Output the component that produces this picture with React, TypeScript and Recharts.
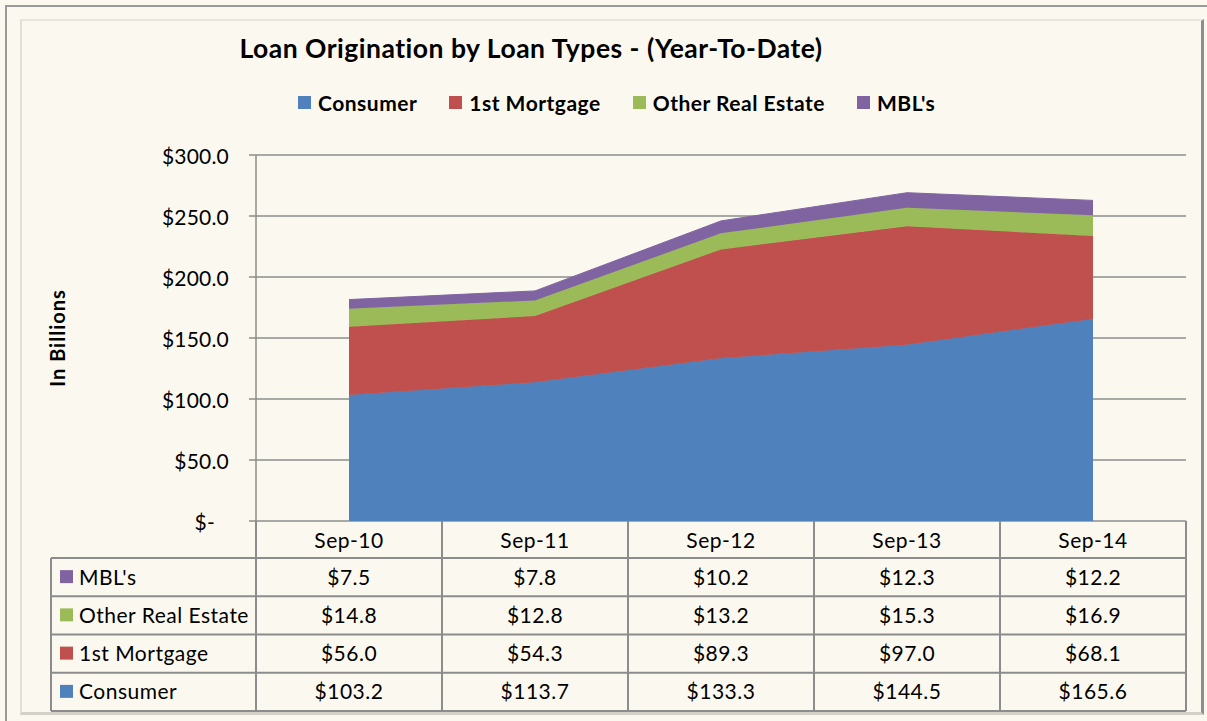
import React from 'react';
import { AreaChart, Area, XAxis, YAxis, CartesianGrid } from 'recharts';

const categories = ['Sep-10', 'Sep-11', 'Sep-12', 'Sep-13', 'Sep-14'];
const consumer = [103.2, 113.7, 133.3, 144.5, 165.6];
const firstMortgage = [56.0, 54.3, 89.3, 97.0, 68.1];
const otherRealEstate = [14.8, 12.8, 13.2, 15.3, 16.9];
const mbls = [7.5, 7.8, 10.2, 12.3, 12.2];
const yTicks = [0, 50, 100, 150, 200, 250, 300];

const seriesDefs = [
  { key: 'consumer', name: 'Consumer', color: '#4F81BD', values: consumer },
  { key: 'firstMortgage', name: '1st Mortgage', color: '#C0504D', values: firstMortgage },
  { key: 'otherRealEstate', name: 'Other Real Estate', color: '#9BBB59', values: otherRealEstate },
  { key: 'mbls', name: "MBL's", color: '#8064A2', values: mbls },
];

const data = categories.map((c, i) => {
  const row: Record<string, any> = { category: c };
  seriesDefs.forEach((s) => (row[s.key] = s.values[i]));
  return row;
});

const W = 1207;
const H = 721;
const BG = '#FBF9EF';
const FONT = 'Lato, "Open Sans", sans-serif';
const LINE = '#8C8C8C';

const PLOT_LEFT = 256;
const PLOT_RIGHT = 1186;
const PLOT_TOP = 155;
const PLOT_BOTTOM = 521;
const COL_W = (PLOT_RIGHT - PLOT_LEFT) / categories.length;
const HEADER_H = 37;
const ROW_H = 38.25;
const LABEL_LEFT = 51;
const TABLE_FS = 21;
const TABLE_LS = 0.5;

const tableRows = [...seriesDefs].reverse();

const fmt = (v: number) => `$${v.toFixed(1)}`;

const YTick = (props: any) => {
  const { x, y, payload } = props;
  const v = payload.value as number;
  return (
    <text
      x={v === 0 ? x - 14 : x}
      y={y}
      textAnchor="end"
      dominantBaseline="central"
      fontFamily={FONT}
      fontSize={21}
      letterSpacing={0.2}
      fill="#000"
    >
      {v === 0 ? '$-' : fmt(v)}
    </text>
  );
};

const cellText = (key: string, x: number, y: number, anchor: string, content: string) => (
  <text
    key={key}
    x={x}
    y={y}
    textAnchor={anchor}
    dominantBaseline="central"
    fontFamily={FONT}
    fontSize={TABLE_FS}
    letterSpacing={TABLE_LS}
    fill="#000"
  >
    {content}
  </text>
);

const TableTick = (props: any) => {
  const { x, payload, index } = props;
  const left = x - COL_W / 2;
  const right = x + COL_W / 2;
  const top = PLOT_BOTTOM;
  const bottom = top + HEADER_H + ROW_H * tableRows.length;
  const els: any[] = [];
  els.push(<line key="vl" x1={left} y1={top} x2={left} y2={bottom} stroke={LINE} strokeWidth={2} />);
  if (index === categories.length - 1) {
    els.push(<line key="vr" x1={right} y1={top} x2={right} y2={bottom} stroke={LINE} strokeWidth={2} />);
  }
  els.push(cellText('h', x, top + HEADER_H / 2, 'middle', payload.value));
  tableRows.forEach((s, r) => {
    const rTop = top + HEADER_H + r * ROW_H;
    els.push(<line key={`hl${r}`} x1={left} y1={rTop} x2={right} y2={rTop} stroke={LINE} strokeWidth={2} />);
    els.push(cellText(`t${r}`, x, rTop + ROW_H / 2 - 1, 'middle', fmt(s.values[index])));
  });
  els.push(<line key="hlb" x1={left} y1={bottom} x2={right} y2={bottom} stroke={LINE} strokeWidth={2} />);
  if (index === 0) {
    els.push(<line key="ll" x1={LABEL_LEFT} y1={top + HEADER_H} x2={LABEL_LEFT} y2={bottom} stroke={LINE} strokeWidth={2} />);
    tableRows.forEach((s, r) => {
      const rTop = top + HEADER_H + r * ROW_H;
      els.push(<line key={`lhl${r}`} x1={LABEL_LEFT} y1={rTop} x2={left} y2={rTop} stroke={LINE} strokeWidth={2} />);
      els.push(<rect key={`lr${r}`} x={LABEL_LEFT + 9} y={rTop + ROW_H / 2 - 7} width={13} height={13} fill={s.color} />);
      els.push(cellText(`lt${r}`, LABEL_LEFT + 28, rTop + ROW_H / 2 - 1, 'start', s.name));
    });
    els.push(<line key="lhlb" x1={LABEL_LEFT} y1={bottom} x2={left} y2={bottom} stroke={LINE} strokeWidth={2} />);
  }
  return <g>{els}</g>;
};

export default function App() {
  return (
    <div style={{ position: 'absolute', left: 0, top: 0, width: W, height: H, background: BG, overflow: 'hidden', fontFamily: FONT }}>
      <div style={{ position: 'absolute', left: 5, top: 5, width: W, height: H, borderLeft: '2px solid #9A9A9A', borderTop: '2px solid #9A9A9A' }} />
      <div
        style={{
          position: 'absolute',
          left: 20,
          top: 19,
          width: 1179,
          height: 691,
          borderLeft: '2px solid #E2E0D6',
          borderTop: '2px solid #E8E6DC',
          borderRight: '3px solid #8E8E8E',
          borderBottom: '3px solid #D4D2C8',
        }}
      />
      <div style={{ position: 'absolute', left: 531, top: 32, transform: 'translateX(-50%)', whiteSpace: 'nowrap', fontWeight: 700, fontSize: 26.5, letterSpacing: 0.5, color: '#000' }}>
        Loan Origination by Loan Types - (Year-To-Date)
      </div>
      <div style={{ position: 'absolute', left: 298, top: 90, display: 'flex', alignItems: 'center', whiteSpace: 'nowrap' }}>
        {seriesDefs.map((s, i) => (
          <div key={s.key} style={{ display: 'flex', alignItems: 'center', marginRight: i < seriesDefs.length - 1 ? 32 : 0 }}>
            <div style={{ width: 13, height: 13, background: s.color, marginRight: 7 }} />
            <span style={{ fontWeight: 700, fontSize: 21, letterSpacing: 0.5, color: '#000' }}>{s.name}</span>
          </div>
        ))}
      </div>
      <div style={{ position: 'absolute', left: 57, top: 338, transform: 'translate(-50%, -50%) rotate(-90deg)', whiteSpace: 'nowrap', fontWeight: 700, fontSize: 20, letterSpacing: 1, color: '#000' }}>
        In Billions
      </div>
      <div style={{ position: 'absolute', left: 0, top: 0 }}>
        <AreaChart
          width={W}
          height={H}
          data={data}
          margin={{ top: PLOT_TOP, right: W - PLOT_RIGHT, bottom: 10, left: PLOT_LEFT - 80 }}
        >
          <CartesianGrid vertical={false} stroke={LINE} strokeWidth={1.5} />
          <YAxis
            width={80}
            domain={[0, 300]}
            ticks={yTicks}
            interval={0}
            tickSize={7}
            tickMargin={20}
            tick={<YTick />}
            axisLine={{ stroke: LINE, strokeWidth: 1.5 }}
            tickLine={{ stroke: LINE, strokeWidth: 1.5 }}
          />
          <XAxis
            dataKey="category"
            height={H - PLOT_BOTTOM - 10}
            padding={{ left: COL_W / 2, right: COL_W / 2 }}
            axisLine={false}
            tickLine={false}
            interval={0}
            tick={<TableTick />}
          />
          {seriesDefs.map((s) => (
            <Area
              key={s.key}
              type="linear"
              dataKey={s.key}
              name={s.name}
              stackId="1"
              stroke={s.color}
              strokeWidth={1}
              fill={s.color}
              fillOpacity={1}
              isAnimationActive={false}
            />
          ))}
        </AreaChart>
      </div>
    </div>
  );
}
